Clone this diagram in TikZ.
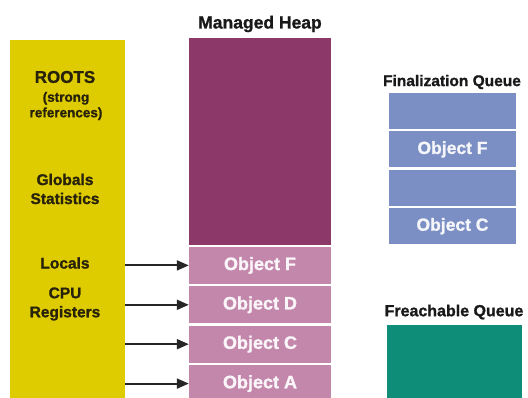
\documentclass[tikz,border=0pt]{standalone}
\usepackage{fontspec}
\setmainfont{Liberation Sans}[BoldFeatures={FakeBold=1.2}]
\usepackage{xcolor}
\usepackage{tikz}
\usetikzlibrary{positioning, arrows.meta}

\definecolor{rootyellow}{RGB}{222,204,0}
\definecolor{rootink}{RGB}{40,34,10}
\definecolor{heapdark}{RGB}{140,56,104}
\definecolor{heaplight}{RGB}{196,135,172}
\definecolor{queueblue}{RGB}{124,143,196}
\definecolor{freachgreen}{RGB}{14,142,120}

\begin{document}
\begin{tikzpicture}[x=1pt, y=-1pt,
    title/.style={font=\bfseries\fontsize{16}{18}\selectfont, text=black!90, inner sep=0pt},
    rootlbl/.style={font=\bfseries\fontsize{15.5}{19}\selectfont, text=rootink, align=center, inner sep=0pt},
    heapobj/.style={fill=heaplight, minimum width=142pt, minimum height=37pt, inner sep=0pt, text=white!92!heaplight, font=\bfseries\fontsize{18}{20}\selectfont},
    queueslot/.style={fill=queueblue, minimum width=127pt, minimum height=36pt, inner sep=0pt, text=white!92!queueblue, font=\bfseries\fontsize{17.5}{20}\selectfont},
    ref_arrow/.style={-{Triangle[length=12pt, width=10pt]}, line width=2pt, draw=black!85}
]
    \useasboundingbox (0,0) rectangle (528,398);

    % Roots column
    \node (roots) [fill=rootyellow, minimum width=115pt, minimum height=358pt, inner sep=0pt] at (67.5,219) {};
    \node (rootstitle) [rootlbl, font=\bfseries\fontsize{17}{18}\selectfont] at (65,77) {ROOTS};
    \node (strongref) [rootlbl, font=\bfseries\fontsize{13.5}{15.5}\selectfont] at (66,106) {(strong\\references)};
    \node (globals) [rootlbl] at (65,189) {Globals\\Statistics};
    \node (locals) [rootlbl] at (65,263) {Locals};
    \node (cpureg) [rootlbl] at (65,304) {CPU\\Registers};

    % Managed heap
    \node (heaptitle) [title, font=\bfseries\fontsize{17.5}{19}\selectfont] at (260,24) {Managed Heap};
    \node (heap) [fill=heapdark, minimum width=142pt, minimum height=207pt, inner sep=0pt] at (260,141.5) {};
    \node (objF) [heapobj, below=1.5pt of heap] {Object F};
    \node (objD) [heapobj, below=2pt of objF] {Object D};
    \node (objC) [heapobj, below=2pt of objD] {Object C};
    \node (objA) [heapobj, below=2pt of objC] {Object A};

    % References from the roots
    \draw [ref_arrow] (roots.east |- objF) -- (objF.west);
    \draw [ref_arrow] (roots.east |- objD) -- (objD.west);
    \draw [ref_arrow] (roots.east |- objC) -- (objC.west);
    \draw [ref_arrow] (roots.east |- objA) -- (objA.west);

    % Finalization queue
    \node (fintitle) [title, font=\bfseries\fontsize{15.5}{18}\selectfont] at (452,82) {Finalization Queue};
    \node (fin1) [queueslot] at (452.5,111) {};
    \node (fin2) [queueslot, below=2pt of fin1] {Object F};
    \node (fin3) [queueslot, below=2pt of fin2] {};
    \node (fin4) [queueslot, below=2pt of fin3] {Object C};

    % Freachable queue
    \node (freachtitle) [title] at (454,312) {Freachable Queue};
    \node (freach) [fill=freachgreen, minimum width=135pt, minimum height=73pt, inner sep=0pt] at (454.5,361.5) {};
\end{tikzpicture}
\end{document}
